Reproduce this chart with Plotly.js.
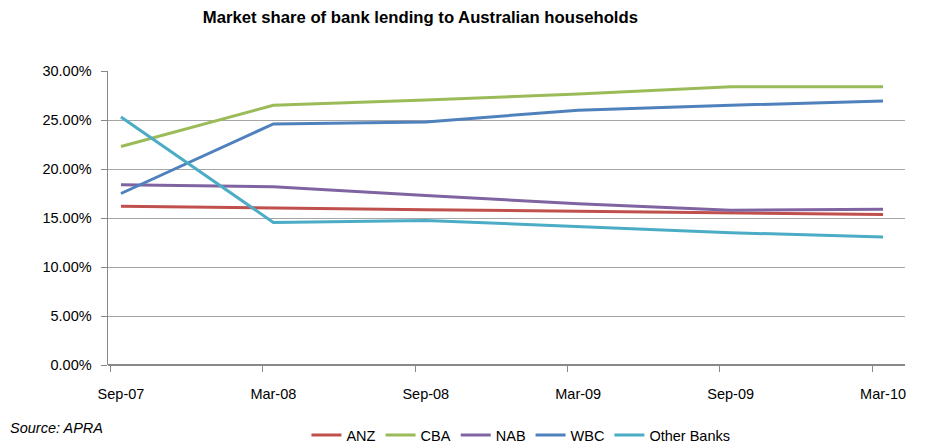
<!DOCTYPE html>
<html><head><meta charset="utf-8">
<script src="https://cdn.plot.ly/plotly-3.0.1.min.js"></script>
<style>html,body{margin:0;padding:0;background:#fff}#chart{width:926px;height:448px}</style>
</head><body><div id="chart"></div>
<script>
const categories = ["Sep-07","Mar-08","Sep-08","Mar-09","Sep-09","Mar-10"];
const ANZ   = [16.2, 16.0, 15.85, 15.7, 15.5, 15.35];
const CBA   = [22.3, 26.5, 27.05, 27.65, 28.4, 28.4];
const NAB   = [18.4, 18.2, 17.3, 16.45, 15.8, 15.9];
const WBC   = [17.5, 24.6, 24.8, 26.0, 26.5, 26.95];
const Other = [25.3, 14.55, 14.75, 14.1, 13.5, 13.05];
const seriesNames = ["ANZ","CBA","NAB","WBC","Other Banks"];
const seriesData = [ANZ, CBA, NAB, WBC, Other];
const colors = ["#C0504D","#9BBB59","#8064A2","#4F81BD","#4BACC6"];
const yTicks = [0,5,10,15,20,25,30];
const yTickText = yTicks.map(v => v.toFixed(2) + '%');

const FONT = "Liberation Sans, Arial, sans-serif";
const xIdx = categories.map((c,i)=>i);

const traces = seriesData.map((d,k)=>({
  x: xIdx, y: d, type:'scatter', mode:'lines', name: seriesNames[k],
  line:{color:colors[k], width:3}, hoverinfo:'skip'
}));

const layout = {
  width:926, height:448,
  margin:{l:108, r:21, t:71, b:83, autoexpand:false},
  paper_bgcolor:'#fff', plot_bgcolor:'#fff',
  font:{family:FONT, size:14.5, color:'#000'},
  title:{text:'<b>Market share of bank lending to Australian households</b>', x:0.454, xanchor:'center', y:0.962, yanchor:'middle', font:{family:FONT, size:16.7, color:'#000'}},
  xaxis:{
    type:'linear', range:[-0.085, 5.144], tickmode:'array', tickvals:xIdx, ticktext:categories,
    ticks:'', showgrid:false, zeroline:false, showline:false, ticklabelstandoff:18,
    tickfont:{family:FONT, size:14.5, color:'#000'},
    minor:{tickmode:'linear', tick0:-0.07, dtick:1, ticks:'outside', ticklen:6, tickcolor:'#888', tickwidth:1, showgrid:false}
  },
  yaxis:{
    range:[0,30], tickmode:'array', tickvals:yTicks, ticktext:yTickText,
    ticks:'outside', ticklen:6, tickcolor:'#888', showgrid:true, gridcolor:'#A6A6A6', gridwidth:1,
    zeroline:true, zerolinecolor:'#888', zerolinewidth:1.5, showline:true, linecolor:'#888', linewidth:1.5,
    ticklabelstandoff:6,
    tickfont:{family:FONT, size:14.5, color:'#000'}
  },
  showlegend:true,
  legend:{orientation:'h', x:0.249, xanchor:'left', y:-0.238, yanchor:'middle',
    font:{family:FONT, size:14.5, color:'#000'}, tracegroupgap:0, bgcolor:'rgba(0,0,0,0)'},
  annotations:[{text:'<i>Source: APRA</i>', xref:'paper', yref:'paper', x:-0.125, xanchor:'left', y:-0.215, yanchor:'middle', showarrow:false, font:{family:FONT, size:14.5, color:'#000'}}]
};
Plotly.newPlot('chart', traces, layout, {displayModeBar:false, staticPlot:true});
</script></body></html>
